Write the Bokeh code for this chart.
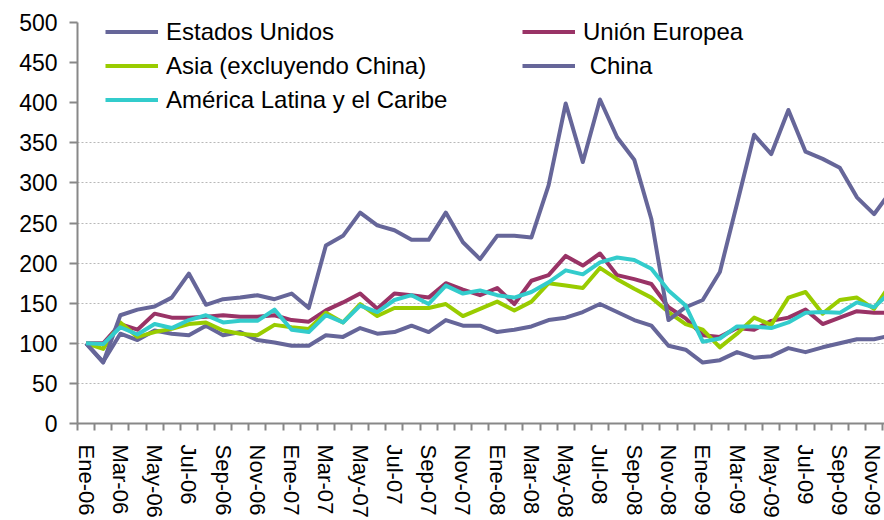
from bokeh.plotting import figure
from bokeh.models import (Range1d, FixedTicker, CustomJSTickFormatter, Legend, LegendItem)
from bokeh.embed import file_html
from bokeh.resources import INLINE

months = ["Ene-06", "Feb-06", "Mar-06", "Abr-06", "May-06", "Jun-06", "Jul-06", "Ago-06",
          "Sep-06", "Oct-06", "Nov-06", "Dic-06",
          "Ene-07", "Feb-07", "Mar-07", "Abr-07", "May-07", "Jun-07", "Jul-07", "Ago-07",
          "Sep-07", "Oct-07", "Nov-07", "Dic-07",
          "Ene-08", "Feb-08", "Mar-08", "Abr-08", "May-08", "Jun-08", "Jul-08", "Ago-08",
          "Sep-08", "Oct-08", "Nov-08", "Dic-08",
          "Ene-09", "Feb-09", "Mar-09", "Abr-09", "May-09", "Jun-09", "Jul-09", "Ago-09",
          "Sep-09", "Oct-09", "Nov-09", "Dic-09"]

estados_unidos = [100, 77, 112, 104, 116, 112, 110, 122, 110, 114,
                  104, 101, 97, 97, 110, 108, 119, 112, 114, 122,
                  114, 129, 122, 122, 114, 117, 121, 129, 132, 139,
                  149, 139, 129, 122, 97, 92, 76, 79, 89, 82,
                  84, 94, 89, 95, 100, 105, 105, 110]
union_europea = [100, 100, 124, 117, 137, 132, 132, 133, 135, 133,
                 133, 135, 129, 127, 141, 151, 162, 143, 162, 160,
                 157, 175, 167, 160, 169, 149, 178, 185, 209, 197,
                 212, 185, 180, 174, 145, 131, 110, 108, 119, 117,
                 128, 132, 142, 124, 132, 140, 138, 138]
asia = [100, 93, 126, 108, 114, 118, 124, 126, 116, 112,
        110, 123, 120, 118, 138, 126, 149, 134, 144, 144,
        144, 149, 134, 143, 152, 141, 152, 175, 172, 169,
        194, 180, 168, 157, 139, 124, 117, 95, 112, 132,
        123, 157, 164, 137, 154, 157, 143, 175]
china = [100, 76, 135, 142, 146, 157, 187, 148, 155, 157,
         160, 155, 162, 144, 222, 234, 263, 247, 241, 229,
         229, 263, 226, 205, 234, 234, 232, 297, 399, 326,
         404, 357, 329, 255, 129, 145, 154, 189, 274, 360,
         336, 391, 339, 330, 319, 282, 261, 290]
america_latina = [100, 99, 120, 111, 124, 119, 129, 135, 126, 128,
                  128, 142, 117, 114, 135, 126, 147, 139, 154, 160,
                  149, 172, 162, 166, 160, 157, 164, 176, 191, 186,
                  201, 207, 204, 193, 166, 147, 102, 106, 121, 121,
                  119, 126, 138, 139, 138, 151, 145, 165]

y_ticks = list(range(0, 550, 50))
grid_ticks = list(range(50, 400, 50))

FONT = "Liberation Sans"
PURPLE = "#666699"
MAROON = "#993366"
GREEN = "#99CC00"
CYAN = "#33CCCC"
AXIS = "#888888"

n = len(months)
xs = list(range(n))

# frame: 77..884 horizontally; value 500 at y=22, 0 at y=423 (extra headroom above 500 for the legend)
p = figure(width=884, height=520, output_backend="svg", toolbar_location=None,
           x_range=Range1d(-0.5, 46.61), y_range=Range1d(0, 520),
           min_border_left=77, min_border_right=0, min_border_top=6, min_border_bottom=97)
p.outline_line_color = None
p.background_fill_color = "white"
p.border_fill_color = "white"

p.xgrid.visible = False
p.ygrid.ticker = FixedTicker(ticks=grid_ticks)
p.ygrid.grid_line_color = "#b8b8b8"
p.ygrid.grid_line_dash = "2 2"
p.ygrid.grid_line_width = 1

# y axis
p.yaxis.ticker = FixedTicker(ticks=y_ticks)
p.yaxis.bounds = (0, 500)
p.yaxis.axis_line_color = AXIS
p.yaxis.axis_line_width = 2
p.yaxis.major_tick_line_color = AXIS
p.yaxis.major_tick_line_width = 2
p.yaxis.major_tick_out = 8
p.yaxis.major_tick_in = 0
p.yaxis.minor_tick_line_color = None
p.yaxis.major_label_standoff = 12
p.yaxis.major_label_text_font = FONT
p.yaxis.major_label_text_font_size = "23px"
p.yaxis.major_label_text_color = "black"

# x axis
p.xaxis.ticker = FixedTicker(ticks=list(range(0, n, 2)),
                             minor_ticks=[i - 0.5 for i in range(n + 1)])
p.xaxis.formatter = CustomJSTickFormatter(args=dict(labels=months),
                                          code="return labels[Math.round(tick)] || '';")
p.xaxis.axis_line_color = AXIS
p.xaxis.axis_line_width = 2
p.xaxis.major_tick_line_color = None
p.xaxis.major_tick_out = 0
p.xaxis.major_tick_in = 0
p.xaxis.minor_tick_line_color = AXIS
p.xaxis.minor_tick_line_width = 2
p.xaxis.minor_tick_out = 7
p.xaxis.minor_tick_in = 0
p.xaxis.major_label_orientation = "vertical"
p.xaxis.major_label_standoff = 14
p.xaxis.major_label_text_font = FONT
p.xaxis.major_label_text_font_size = "22px"
p.xaxis.major_label_text_color = "black"

kw = dict(line_width=4, line_join="round")
r_us = p.line(xs, estados_unidos, line_color=PURPLE, **kw)
r_ue = p.line(xs, union_europea, line_color=MAROON, **kw)
r_as = p.line(xs, asia, line_color=GREEN, **kw)
r_ch = p.line(xs, china, line_color=PURPLE, **kw)
r_al = p.line(xs, america_latina, line_color=CYAN, **kw)

def make_legend(items, loc):
    leg = Legend(items=items, location=loc, orientation="vertical",
                 background_fill_alpha=0, border_line_color=None,
                 padding=0, margin=0, spacing=1,
                 glyph_width=53, glyph_height=33, label_height=33,
                 label_standoff=8,
                 label_text_font=FONT, label_text_font_size="24px",
                 label_text_color="black", label_text_baseline="middle")
    return leg

leg1 = make_legend([LegendItem(label="Estados Unidos", renderers=[r_us]),
                    LegendItem(label="Asia (excluyendo China)", renderers=[r_as]),
                    LegendItem(label="América Latina y el Caribe", renderers=[r_al])],
                   (28, 307))
leg2 = make_legend([LegendItem(label="Unión Europea", renderers=[r_ue]),
                    LegendItem(label=" China", renderers=[r_ch])],
                   (445, 341))
p.add_layout(leg1)
p.add_layout(leg2)

open("out.html", "w").write(file_html(p, INLINE))
